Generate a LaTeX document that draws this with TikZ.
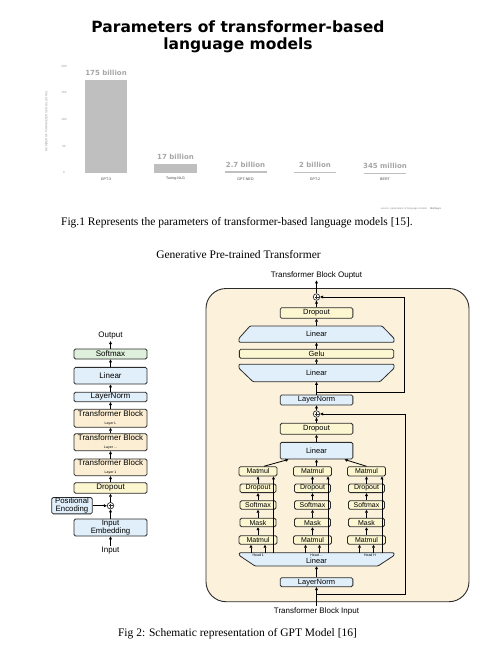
\documentclass[tikz,border=0pt]{standalone}
\usepackage{fontspec}
\setmainfont{Liberation Serif}
\setsansfont{Liberation Sans}
\newfontfamily\chartfont{DejaVu Sans}
\usetikzlibrary{arrows.meta,calc}
\definecolor{ink}{HTML}{2B2B2B}
\definecolor{barfill}{HTML}{BFBFBF}
\definecolor{bartext}{HTML}{A6A6A6}
\definecolor{softgreen}{HTML}{DFF1DC}
\definecolor{normblue}{HTML}{E1EFFA}
\definecolor{blockpeach}{HTML}{FBEED3}
\definecolor{droppale}{HTML}{FCF7D0}
\definecolor{panel}{HTML}{FCF2DC}

\begin{document}
\begin{tikzpicture}[x=1pt,y=-1pt,>={Triangle[length=3pt,width=2.8pt]},
  every node/.style={font=\sffamily\fontsize{8}{9}\selectfont,inner sep=0pt},
  gptbox/.style={draw=ink,line width=0.8pt,rounded corners=1.5pt,align=center},
  colbox/.style={gptbox,fill=droppale,minimum width=36pt,minimum height=8.6pt,font=\sffamily\fontsize{7}{8}\selectfont},
  rbox/.style={gptbox,minimum width=72.7pt,font=\sffamily\fontsize{7.5}{8}\selectfont},
  lbox/.style={gptbox,minimum width=73pt},
  sumnode/.style={circle,draw=ink,fill=white,minimum size=6.5pt,line width=0.7pt,
    path picture={\draw[line width=0.6pt] ([xshift=-2pt]path picture bounding box.center) -- ([xshift=2pt]path picture bounding box.center)
      ([yshift=-2pt]path picture bounding box.center) -- ([yshift=2pt]path picture bounding box.center);}},
  arr/.style={->,draw=black,line width=0.8pt},
  tinylab/.style={font=\sffamily\fontsize{3.5}{4}\selectfont},
  captext/.style={font=\rmfamily\fontsize{11.5}{13}\selectfont}]
  \fill[white] (0,0) rectangle (481,649);
  \useasboundingbox (0,0) rectangle (481,649);

  % bar chart
  \node[font=\chartfont\bfseries\fontsize{15.5}{17}\selectfont,align=center] (title) at (238,36.5) {Parameters of transformer-based\\language models};
  \node[rotate=90,font=\sffamily\fontsize{3}{4}\selectfont,text=black!40] (yaxis) at (46.5,121.5) {NUMBER OF PARAMETERS (IN BILLIONS)};
  \foreach \v in {0,50,...,200}
    \node[font=\sffamily\fontsize{3}{4}\selectfont,text=black!40] at (64,{172.7-\v*0.533}) {\v};
  \foreach \xl/\xr/\val/\lab/\name in {85/127/175/175 billion/GPT-3, 154/197/17/17 billion/Turing-NLG,
      224.5/266.5/2.7/2.7 billion/GPT-NEO, 294/336/2/2 billion/GPT-2, 364/406/0.345/345 million/BERT} {
    \pgfmathsetmacro\bartop{172.7-\val*0.5295}
    \fill[barfill] (\xl,172.7) rectangle (\xr,\bartop);
    \node[font=\chartfont\bfseries\fontsize{7}{8}\selectfont,text=bartext] at ({(\xl+\xr)/2},\bartop-6.8) {\lab};
    \node[font=\sffamily\fontsize{3.6}{4}\selectfont,text=black!75] at ({(\xl+\xr)/2},179) {\name};
  }
  \node[font=\sffamily\fontsize{2.6}{3}\selectfont,text=black!45] (credit) at (411,208.5) {source: parameters of language models \quad\textbf{BotGuys}};

  \node[captext] (capA) at (237,222.5) {Fig.1 Represents the parameters of transformer-based language models [15].};
  \node[captext] (gptT) at (238.5,255) {Generative Pre-trained Transformer};
  \node[captext] (capB) at (237.5,634) {Fig 2: Schematic representation of GPT Model [16]};

  % left: whole model
  \node[inner sep=1.5pt] (outL) at (110.5,335.7) {Output};
  \node[lbox,fill=softgreen,minimum height=10pt] (softL) at (110.5,354) {Softmax};
  \node[lbox,fill=normblue,minimum height=16.7pt] (linL) at (110.5,375.7) {Linear};
  \node[lbox,fill=normblue,minimum height=9.4pt] (lnL) at (110.5,397) {LayerNorm};
  \node[lbox,fill=blockpeach,minimum height=18pt] (tbL) at (110.5,418.3) {Transformer Block\\[-1pt]{\fontsize{3.5}{4}\selectfont Layer L}};
  \node[lbox,fill=blockpeach,minimum height=17pt] (tbM) at (110.5,442.2) {Transformer Block\\[-1pt]{\fontsize{3.5}{4}\selectfont Layer ...}};
  \node[lbox,fill=blockpeach,minimum height=16.7pt] (tbA) at (110.5,467.3) {Transformer Block\\[-1pt]{\fontsize{3.5}{4}\selectfont Layer 1}};
  \node[lbox,fill=droppale,minimum height=10.6pt] (dropL) at (110.5,488) {Dropout};
  \node[sumnode] (sumL) at (110.5,505.7) {};
  \node[gptbox,fill=normblue,minimum width=40.6pt,minimum height=16.3pt,font=\sffamily\fontsize{7.8}{8.2}\selectfont] (posL) at (72,505.7) {Positional\\Encoding};
  \node[lbox,fill=normblue,minimum height=17pt,font=\sffamily\fontsize{7.8}{8.6}\selectfont] (embL) at (110.5,527.5) {Input\\Embedding};
  \node[inner sep=1.5pt] (inL) at (110.5,551) {Input};
  \foreach \a/\b in {inL/embL,embL/sumL,sumL/dropL,dropL/tbA,tbA/tbM,tbM/tbL,tbL/lnL,lnL/linL,linL/softL,softL/outL}
    \draw[arr] (\a) -- (\b);
  \draw[arr] (posL) -- (sumL);

  % right: one transformer block
  \draw[draw=ink,fill=panel,line width=0.9pt,rounded corners=20pt] (206,288.5) rectangle (469,601.7);
  \node[inner sep=1.5pt] (outR) at (316.5,275) {Transformer Block Ouptut};
  \node[sumnode] (sumA) at (316.5,297) {};
  \node[rbox,fill=droppale,minimum height=10.6pt] (dropA) at (316.5,313) {Dropout};
  \draw[draw=ink,fill=normblue,line width=0.8pt,rounded corners=1pt] (250,326) -- (382,326) -- (394,338.3) -- (394,342.3) -- (239,342.3) -- (239,338.3) -- cycle;
  \node[minimum width=155pt,minimum height=16.3pt,font=\sffamily\fontsize{7.5}{8}\selectfont] (linUp) at (316.5,334.2) {Linear};
  \node[rbox,fill=droppale,minimum width=154.3pt,minimum height=9pt] (gelu) at (316.5,353.8) {Gelu};
  \draw[draw=ink,fill=normblue,line width=0.8pt,rounded corners=1pt] (239,364.3) -- (394,364.3) -- (394,368.3) -- (380,381.7) -- (253,381.7) -- (239,368.3) -- cycle;
  \node[minimum width=155pt,minimum height=17.4pt,font=\sffamily\fontsize{7.5}{8}\selectfont] (linLo) at (316.5,373) {Linear};
  \node[rbox,fill=normblue,minimum height=10pt] (lnA) at (316.5,400) {LayerNorm};
  \node[sumnode] (sumB) at (316.5,414) {};
  \node[rbox,fill=droppale,minimum height=11pt] (dropB) at (316.5,428.8) {Dropout};
  \node[rbox,fill=normblue,minimum height=16.7pt] (attlin) at (316.5,450.7) {Linear};
  \draw[draw=ink,fill=normblue,line width=0.8pt,rounded corners=1pt] (239.3,552.7) -- (394,552.7) -- (394,555.5) -- (378,566) -- (255,566) -- (239.3,555.5) -- cycle;
  \node[minimum width=155pt,minimum height=13.3pt] (headLin) at (316.5,559.35) {};
  \node[font=\sffamily\fontsize{7.5}{8}\selectfont] (headTxt) at (316.5,561) {Linear};
  \node[tinylab] (hA) at (258.3,555.3) {Head 1};
  \node[tinylab] (hM) at (316.5,555.3) {Head ...};
  \node[tinylab] (hH) at (370,555.3) {Head H};
  \node[rbox,fill=normblue,minimum height=9pt] (lnB) at (316.5,582.2) {LayerNorm};
  \node[inner sep=1.5pt] (inR) at (316.5,611.7) {Transformer Block Input};

  \foreach \i/\cx in {1/258,2/312.5,3/366.5} {
    \node[colbox,minimum width=38pt,minimum height=9.3pt] (mmT\i) at (\cx,471.3) {Matmul};
    \node[colbox] (drp\i) at (\cx,488.3) {Dropout};
    \node[colbox] (sfx\i) at (\cx,505) {Softmax};
    \node[colbox] (msk\i) at (\cx,522.5) {Mask};
    \node[colbox,minimum width=38pt] (mmB\i) at (\cx,540) {Matmul};
    \draw[arr] (mmB\i) -- (msk\i);
    \draw[arr] (msk\i) -- (sfx\i);
    \draw[arr] (sfx\i) -- (drp\i);
    \draw[arr] (drp\i) -- (mmT\i);
    \path (mmB\i.south) ++(-7,0) coordinate (qk\i) ++(14,0) coordinate (kq\i) ++(8.5,0) coordinate (vv\i);
    \draw[arr] (qk\i |- headLin.north) -- (qk\i);
    \draw[arr] (kq\i |- headLin.north) -- (kq\i);
    \draw[arr] (vv\i |- headLin.north) -- (vv\i |- mmT\i.south);
  }
  \draw[arr] ([xshift=6pt]mmT1.north) -- ([xshift=-28pt]attlin.south);
  \draw[arr] (mmT2.north -| attlin.south) -- (attlin.south);
  \draw[arr] (mmT3.north) -- ([xshift=28pt]attlin.south);

  \foreach \a/\b in {inR/lnB,lnB/headLin,attlin/dropB,dropB/sumB,sumB/lnA,lnA/linLo,linLo/gelu,gelu/linUp,linUp/dropA,dropA/sumA,sumA/outR}
    \draw[arr] (\a) -- (\b);

  % residual paths
  \coordinate (resB) at (316.5,594);
  \coordinate (rightB) at (405,414);
  \draw[arr] (resB) -| (rightB) -- (sumB);
  \coordinate (resA) at (316.5,392.5);
  \coordinate (rightA) at (404,297);
  \draw[arr] (resA) -| (rightA) -- (sumA);
\end{tikzpicture}
\end{document}
